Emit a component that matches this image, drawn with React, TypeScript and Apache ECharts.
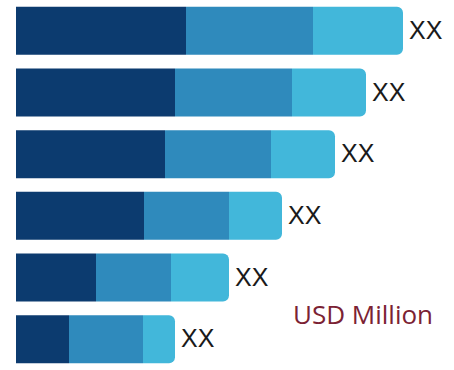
import React, { useEffect, useRef } from "react";
import * as echarts from "echarts";

const categories = ["A", "B", "C", "D", "E", "F"];
const segment1 = [170, 159, 149, 128, 80, 53];
const segment2 = [127, 117, 106, 85, 75, 74];
const segment3 = [90, 74, 64, 53, 58, 32];
const barLabels = ["XX", "XX", "XX", "XX", "XX", "XX"];
const unitText = "USD Million";

export default function App() {
  const ref = useRef<HTMLDivElement>(null);
  useEffect(() => {
    if (!ref.current) return;
    const chart = echarts.init(ref.current, null, { renderer: "svg" });
    chart.setOption({
      animation: false,
      backgroundColor: "#ffffff",
      grid: { left: 16, top: -1.5, width: 400, height: 378 },
      xAxis: { type: "value", min: 0, max: 400, show: false },
      yAxis: {
        type: "category",
        data: categories,
        inverse: true,
        show: false,
      },
      series: [
        {
          type: "bar",
          stack: "total",
          data: segment1,
          barWidth: 48,
          itemStyle: { color: "#0c3b6f" },
        },
        {
          type: "bar",
          stack: "total",
          data: segment2,
          barWidth: 48,
          itemStyle: { color: "#2f8abc" },
        },
        {
          type: "bar",
          stack: "total",
          data: segment3,
          barWidth: 48,
          itemStyle: { color: "#42b7da", borderRadius: [0, 6, 6, 0] },
          label: {
            show: true,
            position: "right",
            distance: 6,
            offset: [0, -1],
            formatter: (p: any) => barLabels[p.dataIndex],
            color: "#1a1a1a",
            fontSize: 25,
            fontFamily: "'Liberation Sans', Arial, sans-serif",
          },
        },
      ],
      graphic: [
        {
          type: "text",
          left: 293,
          top: 301,
          style: {
            text: unitText,
            fill: "#7b2233",
            fontSize: 26,
            fontFamily: "'Open Sans', sans-serif",
          },
        },
      ],
    });
    return () => chart.dispose();
  }, []);
  return (
    <div
      ref={ref}
      style={{ position: "absolute", left: 0, top: 0, width: 454, height: 370 }}
    />
  );
}
